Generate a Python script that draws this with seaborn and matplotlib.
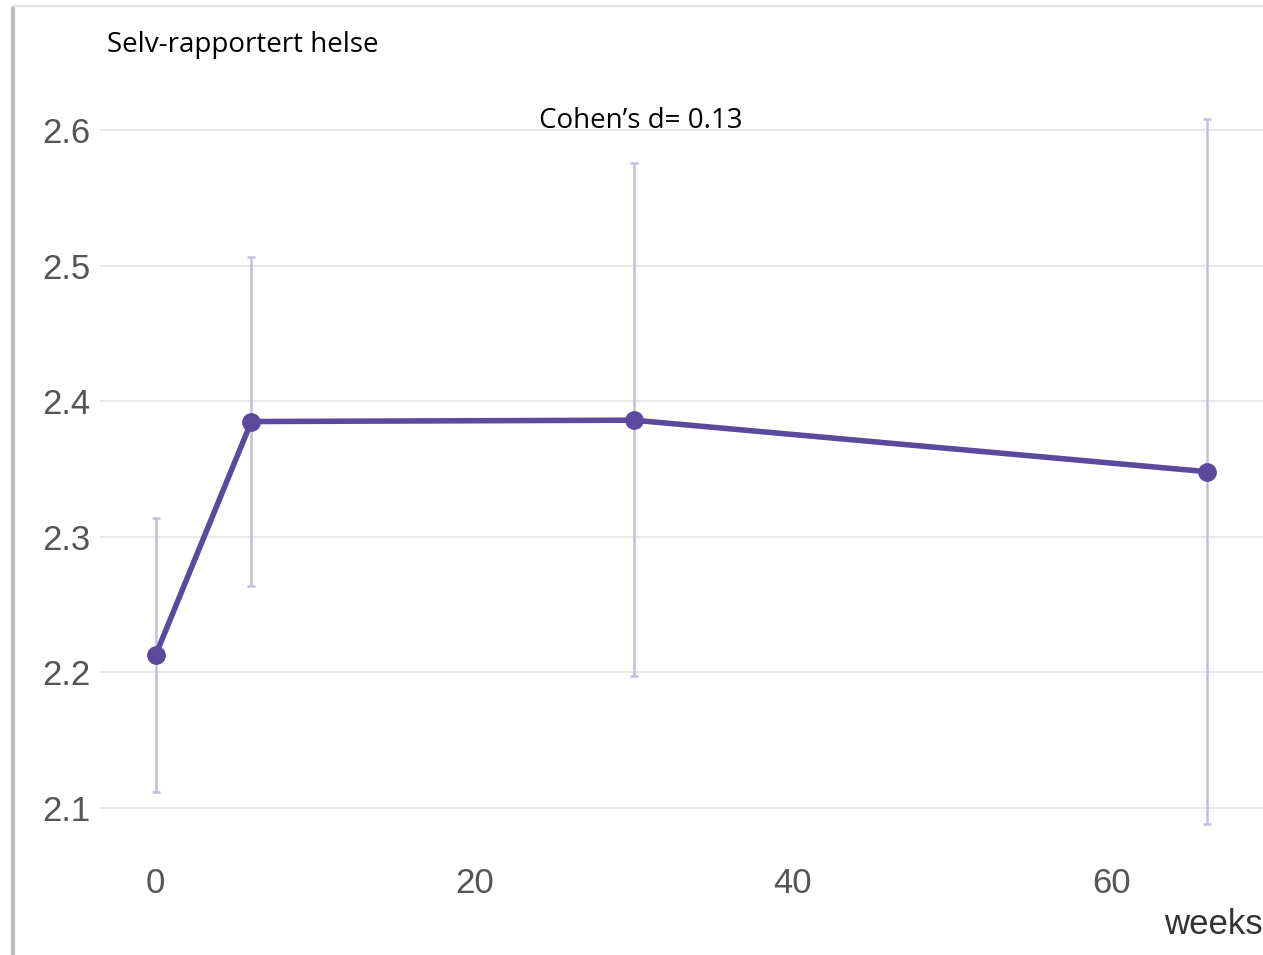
import matplotlib.pyplot as plt
import matplotlib.lines as mlines
import pandas as pd
import seaborn as sns

# Values
weeks = [0, 6, 30, 66]
mean_score = [2.213, 2.385, 2.386, 2.348]
ci_low = [2.112, 2.264, 2.197, 2.088]
ci_high = [2.314, 2.506, 2.576, 2.608]
y_ticks = [2.1, 2.2, 2.3, 2.4, 2.5, 2.6]
x_ticks = [0, 20, 40, 60]

title_text = "Selv-rapportert helse"
effect_text = "Cohen\u2019s d= 0.13"
x_label = "weeks"

df = pd.DataFrame({"weeks": weeks, "score": mean_score, "lo": ci_low, "hi": ci_high})

line_col = "#5b4a9b"
err_col = "#c2bedb"

sns.set_style("white")
plt.rcParams["font.family"] = ["Liberation Sans", "DejaVu Sans"]

fig = plt.figure(figsize=(12.63, 9.55), dpi=100)
ax = fig.add_axes([100 / 1263, 1 - 845 / 955, 1163 / 1263, 745 / 955])

# error bars
ax.errorbar(df["weeks"], df["score"],
            yerr=[df["score"] - df["lo"], df["hi"] - df["score"]],
            fmt="none", ecolor=err_col, elinewidth=1.8, capsize=3, capthick=1.8, zorder=2)

sns.lineplot(data=df, x="weeks", y="score", ax=ax, color=line_col, linewidth=4,
             marker="o", markersize=13.5, markeredgewidth=0, zorder=3)

ax.set_xlim(-3.5, 69.5)
ax.set_ylim(2.6 - 715 / 1356, 2.6 + 30 / 1356)
ax.set_yticks(y_ticks)
ax.set_yticklabels([f"{v:.1f}" for v in y_ticks])
ax.set_xticks(x_ticks)
ax.set_xticklabels([str(v) for v in x_ticks])
ax.tick_params(axis="both", length=0, labelsize=25, labelcolor="#555555")
ax.tick_params(axis="y", pad=7)
ax.tick_params(axis="x", pad=16)
ax.grid(axis="y", color="#e8e8e8", linewidth=1.5)
ax.grid(axis="x", visible=False)
for s in ax.spines.values():
    s.set_visible(False)
ax.set_xlabel("")
ax.set_ylabel("")

fig.text(1263 / 1263, 1 - 924 / 955, x_label, ha="right", va="center",
         fontsize=25, color="#333333")
fig.text(107 / 1263, 1 - 45 / 955, title_text, ha="left", va="center",
         fontsize=20, color="black", family=["Open Sans", "DejaVu Sans"])
fig.text(641 / 1263, 1 - 121 / 955, effect_text, ha="center", va="center",
         fontsize=20, color="black", family=["Open Sans", "DejaVu Sans"])

# screenshot frame edges
fig.add_artist(mlines.Line2D([13 / 1263, 13 / 1263], [0, 1 - 8 / 955],
                             transform=fig.transFigure, color="#bdbdbd", linewidth=3))
fig.add_artist(mlines.Line2D([13 / 1263, 1], [1 - 6 / 955, 1 - 6 / 955],
                             transform=fig.transFigure, color="#e6e6e6", linewidth=1.5))

fig.savefig("out.png", dpi=100)
